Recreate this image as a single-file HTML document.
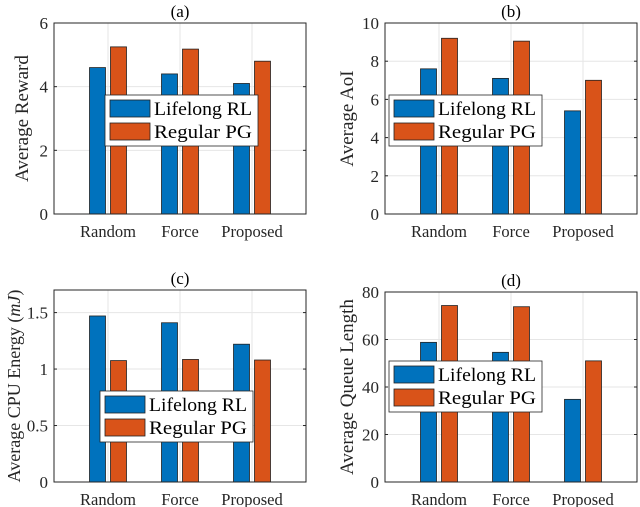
<!DOCTYPE html>
<html><head><meta charset="utf-8"><style>
body{margin:0;background:#fff;}
svg{display:block;}
svg text{font-family:"Liberation Serif",serif;}
</style></head><body>
<svg id="fig" width="640" height="507" viewBox="0 0 640 507"></svg>
<script>
const categories = ["Random","Force","Proposed"];
const seriesNames = ["Lifelong RL","Regular PG"];
const rewardLifelong = [4.6, 4.4, 4.1];
const rewardRegular = [5.25, 5.18, 4.8];
const aoiLifelong = [7.6, 7.1, 5.4];
const aoiRegular = [9.2, 9.05, 7.0];
const energyLifelong = [1.47, 1.41, 1.22];
const energyRegular = [1.075, 1.085, 1.08];
const queueLifelong = [58.8, 54.6, 34.8];
const queueRegular = [74.3, 73.8, 51.0];
const rewardTicks = [0, 2, 4, 6];
const aoiTicks = [0, 2, 4, 6, 8, 10];
const energyTicks = [0, 0.5, 1, 1.5];
const energyTickLabels = ["0", "0.5", "1", "1.5"];
const queueTicks = [0, 20, 40, 60, 80];

const NS = "http://www.w3.org/2000/svg";
const svg = document.getElementById("fig");
const colors = ["#0072BD", "#D95319"];
const FF = '"Liberation Serif", serif';
function mk(tag, attrs, parent){
  const e = document.createElementNS(NS, tag);
  for (const k in attrs) e.setAttribute(k, attrs[k]);
  if (tag === "text") e.setAttribute("font-family", FF);
  (parent || svg).appendChild(e);
  return e;
}
function panel(p){
  const g = mk("g", {});
  
  
  const x0 = p.x, x1 = p.x + 252, yT = p.yT, yB = p.yB;
  const ys = v => yB - v / p.ymax * (yB - yT);
  const xs = c => x0 + (c + 0.75) * 72;
  mk("rect", {x:x0, y:yT, width:252, height:yB-yT, fill:"#fff"}, g);
  categories.forEach((c,i)=>{
    const l = mk("line", {x1:xs(i), x2:xs(i), y1:yT, y2:yB, stroke:"#e6e6e6", "stroke-width":1}, g);
    
    
  });
  p.ticks.forEach((t,i)=>{
    const y = ys(t);
    const l = mk("line", {x1:x0, x2:x1, y1:y, y2:y, stroke:"#e6e6e6", "stroke-width":1}, g);
    
    
    mk("line", {x1:x0, x2:x0+3, y1:y, y2:y, stroke:"#262626"}, g);
    mk("line", {x1:x1-3, x2:x1, y1:y, y2:y, stroke:"#262626"}, g);
    const tx = mk("text", {x:x0-6, y:y+6, "text-anchor":"end", "font-size":17, fill:"#262626"}, g);
    tx.textContent = p.tickLabels ? p.tickLabels[i] : String(t);
    
    
  });
  [p.a, p.b].forEach((arr, s)=>{
    arr.forEach((v,i)=>{
      const bx = xs(i) + (s === 0 ? -18.5 : 2.5);
      const r = mk("rect", {x:bx, y:ys(v), width:16, height:yB-ys(v), fill:colors[s], stroke:"#222", "stroke-width":0.8}, g);
      
      
    });
  });
  categories.forEach((c,i)=>{
    const tx = mk("text", {x:xs(i), y:yB+23, "text-anchor":"middle", "font-size":16.5, fill:"#262626"}, g);
    tx.textContent = c;
    
    
  });
  const box = mk("rect", {x:x0, y:yT, width:252, height:yB-yT, fill:"none", stroke:"#262626", "stroke-width":1}, g);
  
  
  const tt = mk("text", {x:x0+126, y:yT-6, "text-anchor":"middle", "font-size":17, fill:"#000"}, g);
  tt.textContent = p.title;
  
  
  const yl = mk("text", {x:0, y:0, "text-anchor":"middle", "font-size":p.ylfs, fill:"#262626", transform:`translate(${p.ylx},${(yT+yB)/2}) rotate(-90)`}, g);
  yl.innerHTML = p.ylabel;
  
  
  const lg = mk("g", {}, g);
  
  
  mk("rect", {x:p.lx, y:p.ly, width:153, height:51, fill:"#fff", stroke:"#262626", "stroke-width":0.8}, lg);
  seriesNames.forEach((n,s)=>{
    const e = mk("g", {}, lg);
    
    
    mk("rect", {x:p.lx+5, y:p.ly+5+s*23, width:40, height:17, fill:colors[s], stroke:"#222", "stroke-width":0.8}, e);
    const t = mk("text", {x:p.lx+49, y:p.ly+20+s*23, "font-size":19, fill:"#000", textLength:98, lengthAdjust:"spacingAndGlyphs"}, e);
    t.textContent = n;
  });
}
panel({name:"panel-a-reward", x:54, yT:23, yB:214, ymax:6, ticks:rewardTicks, a:rewardLifelong, b:rewardRegular, title:"(a)", ylabel:"Average Reward", ylfs:19, ylx:28, lx:105, ly:95});
panel({name:"panel-b-aoi", x:385, yT:23, yB:214, ymax:10, ticks:aoiTicks, a:aoiLifelong, b:aoiRegular, title:"(b)", ylabel:"Average AoI", ylfs:19, ylx:353, lx:389, ly:95});
panel({name:"panel-c-energy", x:54, yT:290, yB:482, ymax:1.7, ticks:energyTicks, tickLabels:energyTickLabels, a:energyLifelong, b:energyRegular, title:"(c)", ylabel:'Average CPU Energy (<tspan font-style="italic">mJ</tspan>)', ylfs:18, ylx:20, lx:100, ly:391});
panel({name:"panel-d-queue", x:385, yT:292, yB:482, ymax:80, ticks:queueTicks, a:queueLifelong, b:queueRegular, title:"(d)", ylabel:"Average Queue Length", ylfs:19, ylx:353, lx:389, ly:361});
</script>
</body></html>
